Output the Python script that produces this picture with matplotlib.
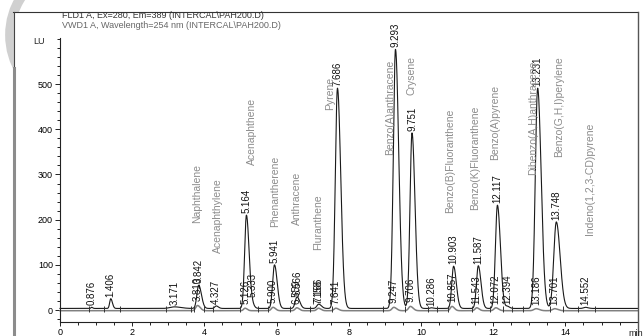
import numpy as np
import matplotlib.pyplot as plt
from matplotlib.patches import Arc, Rectangle
from matplotlib.lines import Line2D
from matplotlib.transforms import IdentityTransform

plt.rcParams['font.family'] = ['Liberation Sans', 'DejaVu Sans']

# FLD1 A peaks (retention time, apex LU, peak sigma in min)
fld_rt = [0.876, 1.406, 3.171, 3.842, 4.327, 5.164, 5.333, 5.941, 6.566, 7.166,
          7.686, 9.293, 9.751, 10.286, 10.903, 11.587, 12.117, 12.394, 13.231,
          13.748, 14.552]
fld_apex = [6, 25, 7, 55, 9, 210, 9, 100, 29, 13,
            491, 577, 392, 5, 97, 98, 232, 8, 491,
            195, 6]
fld_sigma = [0.02, 0.03, 0.12, 0.05, 0.04, 0.05, 0.04, 0.05, 0.05, 0.05,
             0.06, 0.06, 0.055, 0.03, 0.05, 0.05, 0.055, 0.04, 0.065,
             0.07, 0.05]
fld_base = 3.5

# VWD1 A peaks
vwd_rt = [3.810, 5.126, 5.900, 6.559, 7.158, 7.641, 9.247, 9.706, 10.857,
          11.543, 12.072, 13.186, 13.701]
vwd_apex = [10, 4, 6, 5, 4, 4, 6, 8, 8, 5, 5, 3, 3]
vwd_sigma = [0.05, 0.04, 0.045, 0.045, 0.045, 0.05, 0.05, 0.05, 0.045,
             0.045, 0.05, 0.06, 0.06]
vwd_base = -1.5

# integration event marks on the baseline
events = [0.80, 1.22, 1.66, 2.94, 3.63, 3.71, 3.99, 4.24, 4.99, 5.49, 5.77,
          6.37, 6.93, 7.53, 8.95, 9.57, 10.19, 10.44, 10.75, 11.41, 11.91,
          12.27, 12.52, 12.83, 13.57, 13.93, 14.35, 14.82]

compounds = ['Naphthalene', 'Acenaphthylene', 'Acenaphthene', 'Phenantherene',
             'Anthracene', 'Fluranthene', 'Pyrene', 'Benzo(A)anthracene',
             'Crysene', 'Benzo(B)Fluoranthene', 'Benzo(K)Fluoranthene',
             'Benzo(A)pyrene', 'Dibenzo(A,H)anthracene', 'Benzo(G,H,I)perylene',
             'Indeno(1,2,3-CD)pyrene']
compound_rt = [3.80, 4.38, 5.32, 5.96, 6.57, 7.15, 7.48, 9.14, 9.75, 10.80,
               11.50, 12.05, 13.10, 13.82, 14.68]
compound_lu = [192, 126, 321, 184, 188, 133, 442, 343, 476, 215, 221, 332,
               299, 338, 166]


def trace(t, rts, apex, sig, base):
    y = np.full_like(t, base)
    for r, a, s in zip(rts, apex, sig):
        sd = np.where(t < r, s, s * 1.5)
        y += (a - base) * np.exp(-0.5 * ((t - r) / sd) ** 2)
    return y


W, H = 643, 336
fig = plt.figure(figsize=(W / 100, H / 100), dpi=100)
px = IdentityTransform()

# page: faint logo arc behind, white sheet, frame
fig.add_artist(Arc((60, 301), 100, 120, theta1=100, theta2=260, transform=px,
                   color='#d0d0d0', lw=7, zorder=-3))
fig.add_artist(Rectangle((14, -5), 640, 329, transform=px, facecolor='white',
                         edgecolor='none', zorder=-2))
fig.add_artist(Line2D([13, 638], [324, 324], transform=px, color='#333333', lw=0.8))
fig.add_artist(Line2D([13.5, 13.5], [0, 324], transform=px, color='#444444', lw=0.8))
fig.add_artist(Line2D([13.5, 13.5], [0, 268], transform=px, color='#8c8c8c', lw=2.2))
fig.add_artist(Line2D([637.5, 637.5], [0, 324], transform=px, color='#555555', lw=1))

ax = fig.add_axes([60 / W, 14 / H, 577.6 / W, 284 / H])
ax.patch.set_alpha(0)
ax.set_xlim(0, 16)
ax.set_ylim(-26.5, 602)

t = np.linspace(0, 16, 4000)
y_fld = trace(t, fld_rt, fld_apex, fld_sigma, fld_base)
y_vwd = trace(t, vwd_rt, vwd_apex, vwd_sigma, vwd_base)

ax.plot(t, y_vwd, color='#808080', lw=1.1, clip_on=False)
ax.plot(t, y_fld, color='#1a1a1a', lw=0.8, clip_on=False)
ax.vlines(events, -5, 8, color='#333333', lw=0.7)

for r in fld_rt:
    ax.annotate(f'{r:.3f}', (r, np.interp(r, t, y_fld)), xytext=(0, 1.5),
                textcoords='offset points', rotation=90, ha='center',
                va='bottom', fontsize=7, color='#111111', annotation_clip=False)
for r in vwd_rt:
    ax.annotate(f'{r:.3f}', (r, np.interp(r, t, y_vwd)), xytext=(0, 3),
                textcoords='offset points', rotation=90, ha='center',
                va='bottom', fontsize=7, color='#111111', annotation_clip=False)

for name, r, v in zip(compounds, compound_rt, compound_lu):
    ax.text(r, v, name, rotation=90, ha='center', va='bottom', fontsize=7.5,
            color='#8c8c8c')

for s in ['top', 'right']:
    ax.spines[s].set_visible(False)
for s in ['left', 'bottom']:
    ax.spines[s].set_color('#222222')
    ax.spines[s].set_linewidth(0.8)

ax.set_xticks(range(0, 15, 2))
ax.set_xticks(np.arange(0, 16, 0.5), minor=True)
ax.set_yticks(range(0, 501, 100))
ax.set_yticks(range(-20, 601, 20), minor=True)
ax.tick_params(which='both', direction='out', color='#222222', labelsize=6.5,
               width=0.7, pad=1.5)
ax.tick_params(axis='x', which='major', length=3)
ax.tick_params(axis='x', which='minor', length=2.5)
ax.tick_params(axis='y', which='major', length=3.5)
ax.tick_params(axis='y', which='minor', length=2)

fig.text(33 / W, 1 - 42 / H, 'LU', fontsize=6.5, va='center', color='#222222')
fig.text(628 / W, 1 - 333 / H, 'min', fontsize=6.5, va='center', color='#222222')
fig.text(62 / W, 1 - 15 / H, 'FLD1 A, Ex=280, Em=389 (INTERCAL\\PAH200.D)',
         fontsize=6.5, va='center', color='#333333')
fig.text(62 / W, 1 - 25 / H, 'VWD1 A, Wavelength=254 nm (INTERCAL\\PAH200.D)',
         fontsize=6.5, va='center', color='#666666')

fig.savefig('out.png', dpi=100)
